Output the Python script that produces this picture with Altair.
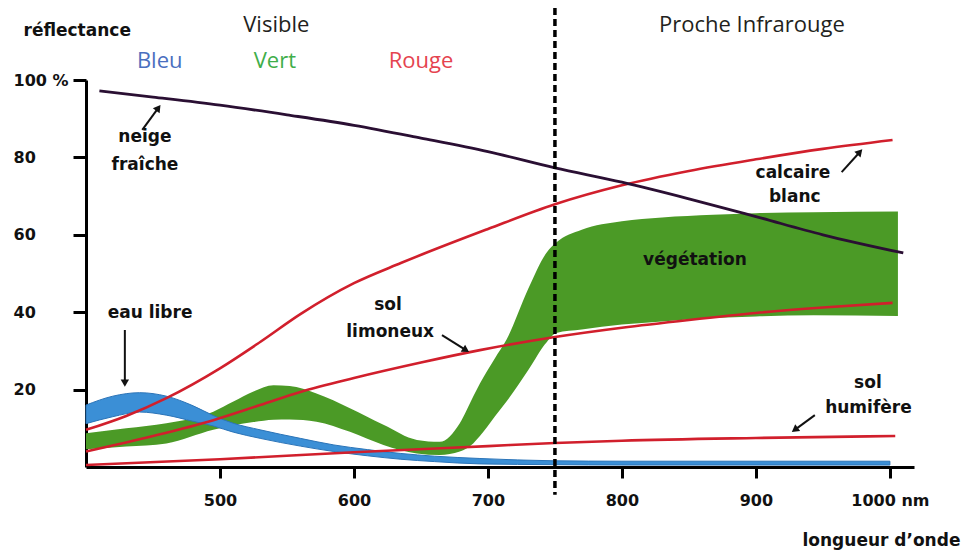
import math
import altair as alt
import pandas as pd

# ---------------- data ----------------
# neige fraîche
snow_wl = [410, 450, 500, 550, 600, 650, 700, 750, 800, 850, 900, 950, 1010]
snow_r = [97.2, 95.6, 93.5, 91.0, 88.3, 85.0, 81.5, 77.3, 73.6, 69.3, 64.7, 60.0, 55.3]

# calcaire blanc
calc_wl = [400, 430, 460, 500, 530, 560, 600, 635, 700, 750, 800, 850, 900, 950, 1002]
calc_r = [9.6, 13.2, 17.8, 25.5, 32.3, 39.5, 47.5, 52.7, 61.5, 67.9, 72.8, 76.5, 79.5, 82.2, 84.5]

# sol limoneux
limo_wl = [400, 450, 495, 530, 560, 600, 650, 694, 750, 800, 850, 900, 950, 1002]
limo_r = [4.0, 8.0, 12.1, 16.0, 19.4, 23.0, 27.0, 30.2, 33.6, 36.0, 38.0, 39.8, 41.2, 42.4]

# sol humifère
humi_wl = [400, 500, 600, 700, 750, 800, 900, 1004]
humi_r = [0.5, 2.0, 3.8, 5.4, 6.2, 6.8, 7.5, 8.0]

# eau libre (band)
water_wl = [400, 420, 440, 460, 480, 495, 510, 530, 560, 585, 610, 635, 660, 694, 750, 800, 1000]
water_top = [16.0, 18.3, 19.2, 18.3, 15.8, 13.3, 11.3, 9.6, 7.4, 5.7, 4.5, 3.5, 2.8, 2.2, 1.6, 1.5, 1.5]
water_bot = [11.2, 13.0, 14.2, 13.4, 11.8, 10.6, 9.0, 7.4, 5.4, 4.0, 2.9, 2.0, 1.4, 0.8, 0.6, 0.5, 0.5]

# végétation (band)
veg_wl = [400, 430, 460, 495, 510, 525, 540, 552, 572, 597, 622, 647, 664, 679, 689, 694, 705, 714,
          730, 744, 751, 770, 800, 830, 868, 900, 943, 1006]
veg_top = [8.7, 10.0, 11.3, 14.3, 16.9, 19.5, 21.1, 20.9, 19.0, 15.2, 10.9, 7.0, 6.5, 11.3, 18.2, 21.6,
           28.0, 33.0, 46.0, 55.5, 58.0, 61.3, 63.5, 64.5, 65.2, 65.6, 65.8, 66.0]
veg_bot = [4.6, 5.3, 6.1, 9.6, 10.8, 11.6, 12.2, 12.3, 11.7, 9.1, 5.7, 3.5, 3.1, 4.0, 6.1, 8.0,
           13.0, 17.0, 25.0, 32.3, 34.6, 35.5, 36.8, 37.6, 38.5, 38.9, 39.2, 39.0]

# axis ticks
x_ticks = [500, 600, 700, 800, 900, 1000]
y_ticks = [20, 40, 60, 80, 100]

# visible / NIR boundary
boundary_wl = [750]

# header labels
head_text = ["Visible", "Proche Infrarouge", "Bleu", "Vert", "Rouge"]
head_x = [542, 897, 455, 541, 650]
head_y = [114.2, 114.2, 104.9, 104.9, 104.9]
head_color = ["#231f20", "#231f20", "#4a6fbf", "#3fae4a", "#e5434f"]

# curve annotations
ann_text = ["neige", "fraîche", "calcaire", "blanc", "végétation", "sol", "limoneux",
            "eau libre", "sol", "humifère"]
ann_x = [444, 444, 927.6, 929, 854.5, 625.4, 627, 447.8, 983.6, 984]
ann_y = [85.3, 78.0, 76.0, 69.8, 53.5, 41.9, 34.9, 39.8, 21.7, 15.2]

# arrows (tail -> tip)
arr_x1 = [442, 964, 665.7, 429, 944]
arr_y1 = [87.1, 76.2, 34.1, 35.4, 13.4]
arr_x2 = [454, 977.6, 683.6, 429, 929]
arr_y2 = [92.8, 81.4, 30.2, 21.7, 9.6]

# ---------------- chart ----------------
X_DOM = [400, 1018]
Y_DOM = [0, 100]
W, H = 828, 387
xs = alt.Scale(domain=X_DOM, nice=False, zero=False)
ys = alt.Scale(domain=Y_DOM, nice=False, zero=False)

BOLD = "DejaVu Sans"
RED = "#d11f2c"

x_axis = alt.Axis(
    values=x_ticks, grid=False,
    labelExpr="datum.value == 1000 ? '\u00a0\u00a0\u00a0\u00a01000 nm' : datum.label",
    labelFont=BOLD, labelFontWeight="bold", labelFontSize=16, labelColor="#111",
    labelPadding=14, labelFlush=False, labelOverlap=False,
    domainColor="#000", domainWidth=3, tickColor="#000", tickWidth=3, tickSize=11,
    title="longueur d’onde", titleFont=BOLD, titleFontWeight="bold", titleFontSize=17,
    titleColor="#111", titleX=716, titleY=73, titleAlign="left", titleBaseline="middle",
)
y_axis = alt.Axis(
    values=y_ticks, grid=False,
    labelExpr="datum.value == 100 ? '100 %' : datum.label",
    labelFont=BOLD, labelFontWeight="bold", labelFontSize=16, labelColor="#111",
    labelAlign="left", labelBaseline="middle", labelPadding=60, labelFlush=False,
    labelOverlap=False,
    domainColor="#000", domainWidth=3, tickColor="#000", tickWidth=3, tickSize=13,
    title="réflectance", titleFont=BOLD, titleFontWeight="bold", titleFontSize=17,
    titleColor="#111", titleAngle=0, titleX=-63, titleY=-50, titleAlign="left",
    titleBaseline="middle",
)


def X(field):
    return alt.X(field, scale=xs, axis=x_axis)


def Y(field):
    return alt.Y(field, scale=ys, axis=y_axis)


veg_df = pd.DataFrame({"wl": veg_wl, "top": veg_top, "bot": veg_bot})
water_df = pd.DataFrame({"wl": water_wl, "top": water_top, "bot": water_bot})

veg = alt.Chart(veg_df).mark_area(color="#4b9a26", interpolate="monotone").encode(
    x=X("wl:Q"), y=Y("top:Q"), y2="bot:Q",
)
water = alt.Chart(water_df).mark_area(color="#3b8fd6", interpolate="monotone",
                                      stroke="#2b74b8", strokeWidth=1).encode(
    x=X("wl:Q"), y=Y("top:Q"), y2="bot:Q",
)


def curve(wl, r, color, width=2.6):
    df = pd.DataFrame({"wl": wl, "r": r})
    return alt.Chart(df).mark_line(color=color, strokeWidth=width, interpolate="monotone").encode(
        x=X("wl:Q"), y=Y("r:Q"),
    )


humi = curve(humi_wl, humi_r, RED)
limo = curve(limo_wl, limo_r, RED)
calc = curve(calc_wl, calc_r, RED)
snow = curve(snow_wl, snow_r, "#2a0f33", 2.8)

bound_df = pd.DataFrame({"wl": boundary_wl, "top": [118.6], "bot": [-7.2]})
boundary = alt.Chart(bound_df).mark_rule(color="#000", strokeWidth=3.5, strokeDash=[7, 4],
                                         clip=False).encode(
    x=X("wl:Q"), y=Y("top:Q"), y2="bot:Q",
)

head_df = pd.DataFrame({"t": head_text, "x": head_x, "y": head_y, "c": head_color})
heads = alt.Chart(head_df).mark_text(font="Open Sans", fontSize=22, baseline="middle",
                                     align="center", clip=False).encode(
    x=X("x:Q"), y=Y("y:Q"),
    text="t:N",
    color=alt.Color("c:N", scale=None),
)

ann_df = pd.DataFrame({"t": ann_text, "x": ann_x, "y": ann_y})
anns = alt.Chart(ann_df).mark_text(font=BOLD, fontWeight="bold", fontSize=17, color="#111",
                                   baseline="middle", align="center", clip=False).encode(
    x=X("x:Q"), y=Y("y:Q"),
    text="t:N",
)

kx = W / (X_DOM[1] - X_DOM[0])
ky = H / (Y_DOM[1] - Y_DOM[0])
angles = [math.degrees(math.atan2((b - a) * kx, (d - c) * ky)) % 360
          for a, b, c, d in zip(arr_x1, arr_x2, arr_y1, arr_y2)]
arr_df = pd.DataFrame({"x1": arr_x1, "y1": arr_y1, "x2": arr_x2, "y2": arr_y2, "ang": angles})
arr_lines = alt.Chart(arr_df).mark_rule(color="#111", strokeWidth=2, clip=False).encode(
    x=X("x1:Q"), y=Y("y1:Q"), x2="x2:Q", y2="y2:Q",
)
arr_heads = alt.Chart(arr_df).mark_point(shape="triangle-up", filled=True, color="#111",
                                         size=70, opacity=1, clip=False).encode(
    x=X("x2:Q"), y=Y("y2:Q"),
    angle=alt.Angle("ang:Q", scale=None),
)

chart = alt.layer(
    veg, water, humi, limo, calc, snow, boundary, heads, anns, arr_lines, arr_heads
).properties(
    width=W, height=H,
    autosize=alt.AutoSizeParams(type="none"),
    padding={"left": 78, "top": 72, "right": 49, "bottom": 86},
).configure_view(stroke=None)

chart.save("out.html", embed_options={"renderer": "svg", "actions": False})
